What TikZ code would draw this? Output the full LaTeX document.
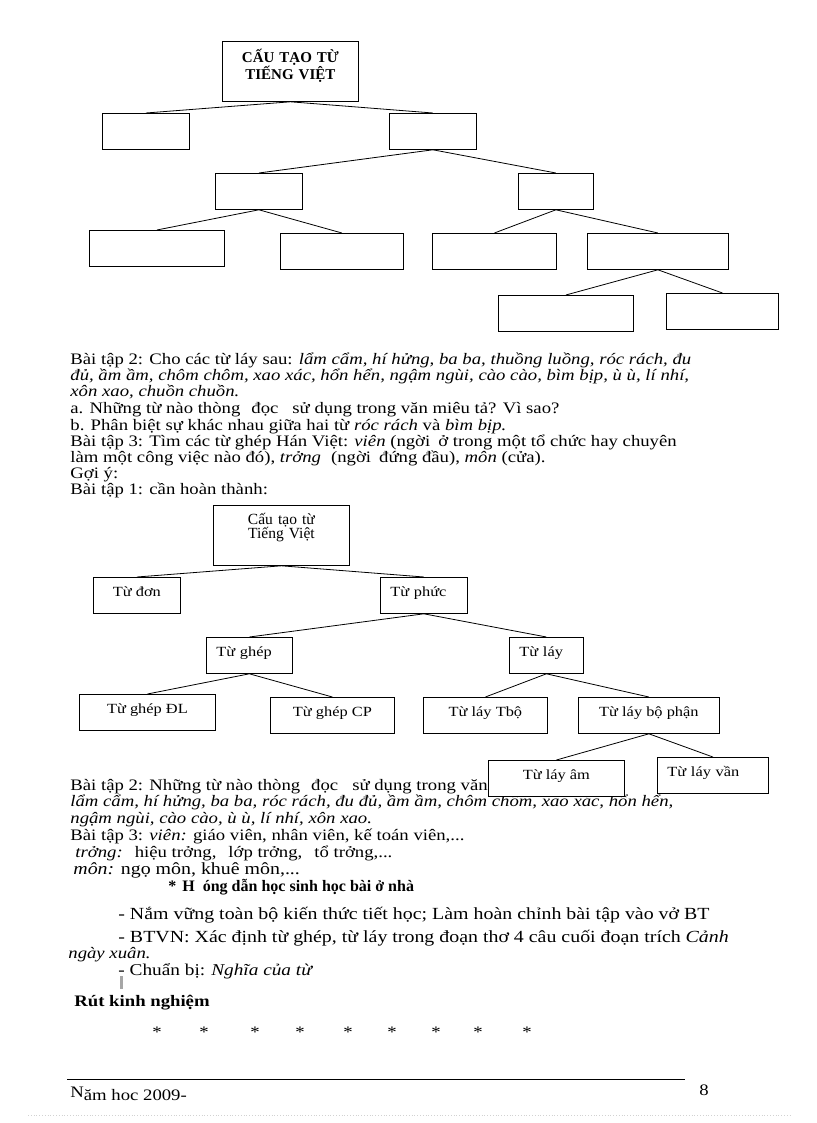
\documentclass[tikz,border=0pt]{standalone}
\usepackage{fontspec}
\setmainfont[FakeStretch=1.17]{Liberation Serif}
\newfontfamily\rootfont{Liberation Serif}
\begin{document}
\begin{tikzpicture}[x=1pt, y=-1pt, line width=0.8pt,
    every node/.style={inner sep=0pt},
    txt/.style={anchor=base west, font=\fontsize{16}{17}\selectfont},
    big/.style={txt, font=\fontsize{17}{18}\selectfont},
    tbox/.style={draw, fill=white, anchor=north west, minimum width=#1,
      text height=19pt, text depth=17pt, font=\fontsize{14}{16}\selectfont},
    ltbox/.style 2 args={tbox=#1, align=left, inner xsep=10pt, text width=#2},
    rootbox/.style 2 args={draw, fill=white, anchor=north west, text width=136pt,
      align=center, text height=#1, text depth=#2}]

    \useasboundingbox (0,0) rectangle (816,1123);

    % exercise text
    \node[txt] (b1) at (70,364) {Bài tập 2: Cho các từ láy sau: \textit{lẩm cẩm, hí hửng, ba ba, thuồng luồng, róc rách, đu}};
    \node[txt] (b2) at (70,380) {\textit{đủ, ầm ầm, chôm chôm, xao xác, hổn hển, ngậm ngùi, cào cào, bìm bịp, ù ù, lí nhí,}};
    \node[txt] (b3) at (70,396) {\textit{xôn xao, chuồn chuồn.}};
    \node[txt] (b4) at (70,413) {a. Những từ nào thòng\hspace{11pt}đọc\hspace{14pt}sử dụng trong văn miêu tả? Vì sao?};
    \node[txt] (b5) at (70,430) {b. Phân biệt sự khác nhau giữa hai từ \textit{róc rách} và \textit{bìm bịp.}};
    \node[txt] (b6) at (70,446) {Bài tập 3: Tìm các từ ghép Hán Việt: \textit{viên} (ngời\hspace{8pt}ở trong một tổ chức hay chuyên};
    \node[txt] (b7) at (70,462) {làm một công việc nào đó), \textit{trởng}\hspace{10pt}(ngời\hspace{8pt}đứng đầu), \textit{môn} (cửa).};
    \node[txt] (b8) at (70,478) {Gợi ý:};
    \node[txt] (b9) at (70,494) {Bài tập 1: cần hoàn thành:};

    \node[txt] (c1) at (70,790) {Bài tập 2: Những từ nào thòng\hspace{11pt}đọc\hspace{14pt}sử dụng trong văn};
    \node[txt] (c2) at (70,806) {\textit{lẩm cẩm, hí hửng, ba ba, róc rách, đu đủ, ầm ầm, chôm chôm, xao xác, hổn hển,}};
    \node[txt] (c3) at (70,823) {\textit{ngậm ngùi, cào cào, ù ù, lí nhí, xôn xao.}};
    \node[txt] (c4) at (70,840) {Bài tập 3: \textit{viên:} giáo viên, nhân viên, kế toán viên,...};
    \node[txt] (c5) at (75,857) {\textit{trởng:}\hspace{12pt}hiệu trởng,\hspace{12pt}lớp trởng,\hspace{12pt}tổ trởng,...};
    \node[big] (c6) at (73,874) {\textit{môn:} ngọ môn, khuê môn,...};
    \node[txt, font=\rootfont\fontsize{16}{17}\selectfont\bfseries] (c7) at (168,891) {*\hspace{6pt}H\hspace{8pt}óng dẫn học sinh học bài ở nhà};
    \node[big] (c8) at (118,919) {- Nắm vững toàn bộ kiến thức tiết học; Làm hoàn chỉnh bài tập vào vở BT};
    \node[big] (c9) at (118,942) {- BTVN: Xác định từ ghép, từ láy trong đoạn thơ 4 câu cuối đoạn trích \textit{Cảnh}};
    \node[txt] (c10) at (68,958) {\textit{ngày xuân.}};
    \node[txt, font=\fontsize{16.5}{17}\selectfont] (c11) at (118,975) {- Chuẩn bị:\hspace{6pt}\textit{Nghĩa của từ}};
    \fill[gray!70] (119.5,976) rectangle (123,989);
    \node[txt, font=\fontsize{16}{17}\selectfont\bfseries] (c12) at (74,1006) {Rút kinh nghiệm};

    \foreach \x [count=\i] in {157,204,255,300,348,392,436,478,527} {
      \node[txt, anchor=base] (star\i) at (\x,1037) {*};
    }

    % footer
    \draw[line width=0.7pt] (67,1079) -- (685,1079);
    \node[txt] (year) at (70,1100) {\raisebox{3pt}{N}ăm hoc 2009-};
    \node[txt] (page) at (699,1095) {8};
    \draw[gray!35, dotted] (28,1115) -- (790,1115);

    % empty tree
    \node[rootbox={21pt}{39pt}, font=\rootfont\fontsize{15}{14.4}\selectfont\bfseries] (r1) at (222,41) {CẤU TẠO TỪ\\TIẾNG VIỆT};
    \node[tbox=87pt] (t1a) at (102,113) {};
    \node[tbox=87pt] (t1b) at (389,113) {};
    \node[tbox=87pt] (t1c) at (215,173) {};
    \node[tbox=75pt] (t1d) at (518,173) {};
    \node[tbox=135pt] (t1e) at (89,230) {};
    \node[tbox=123pt] (t1f) at (280,233) {};
    \node[tbox=124pt] (t1g) at (432,233) {};
    \node[tbox=141pt] (t1h) at (587,233) {};
    \node[tbox=135pt] (t1i) at (498,295) {};
    \node[tbox=112pt] (t1j) at (666,293) {};
    \foreach \a/\b in {r1/t1a, r1/t1b, t1b/t1c, t1b/t1d, t1c/t1e, t1c/t1f,
                       t1d/t1g, t1d/t1h, t1h/t1i, t1h/t1j} {
      \draw (\a.south) -- (\b.north);
    }

    % filled tree
    \node[rootbox={19pt}{41pt}, font=\rootfont\fontsize{15.5}{14}\selectfont] (r2) at (213,505) {Cấu tạo từ\\Tiếng Việt};
    \node[tbox=87pt] (t2a) at (93,577) {Từ đơn};
    \node[ltbox={87pt}{67pt}] (t2b) at (380,577) {Từ phức};
    \node[ltbox={86pt}{66pt}] (t2c) at (206,637) {Từ ghép};
    \node[ltbox={74pt}{54pt}] (t2d) at (509,637) {Từ láy};
    \node[tbox=136pt] (t2e) at (79,694) {Từ ghép ĐL};
    \node[tbox=124pt] (t2f) at (270,697) {Từ ghép CP};
    \node[tbox=124pt] (t2g) at (423,697) {Từ láy Tbộ};
    \node[tbox=141pt] (t2h) at (578,697) {Từ láy bộ phận};
    \node[tbox=136pt] (t2i) at (488,760) {Từ láy âm};
    \node[ltbox={111pt}{91pt}] (t2j) at (657,757) {Từ láy vần};
    \foreach \a/\b in {r2/t2a, r2/t2b, t2b/t2c, t2b/t2d, t2c/t2e, t2c/t2f,
                       t2d/t2g, t2d/t2h, t2h/t2i, t2h/t2j} {
      \draw (\a.south) -- (\b.north);
    }

\end{tikzpicture}
\end{document}
